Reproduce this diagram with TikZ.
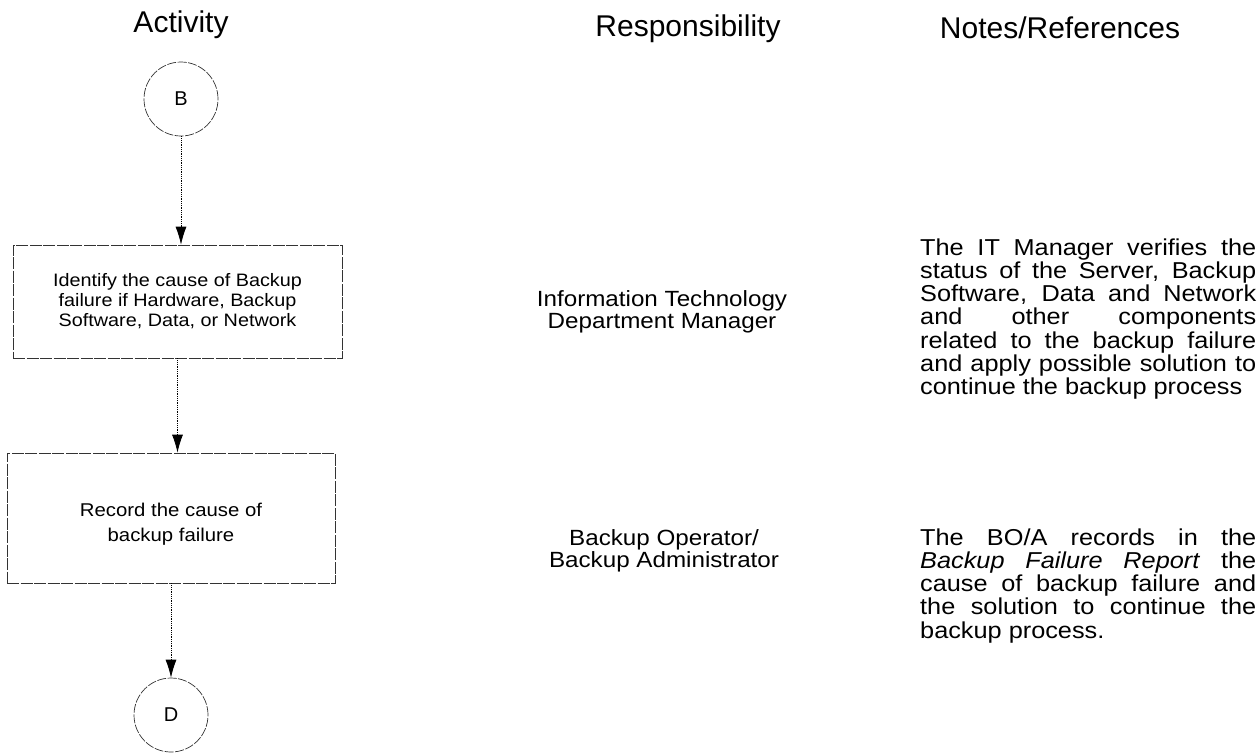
\documentclass[tikz,border=0pt]{standalone}
\usepackage{fontspec}
\setmainfont{Liberation Sans}
\newfontfamily\scanfont{Liberation Sans}[FakeStretch=1.1]
\usetikzlibrary{arrows.meta}

\tikzstyle{connector} = [circle,draw=black!80,line width=0.7pt,dash pattern=on 9pt off 1.5pt,minimum size=74pt,inner sep=0pt,font=\fontsize{20}{24}\selectfont]
\tikzstyle{activity} = [rectangle,draw=black!80,line width=0.7pt,dash pattern=on 12pt off 1.5pt,align=center,text centered]
\tikzstyle{flow} = [densely dotted,line width=0.8pt,-{Latex[length=18pt,width=11pt]}]
\tikzstyle{heading} = [anchor=base,font=\fontsize{30}{36}\selectfont]
\tikzstyle{role} = [align=center,font=\scanfont\fontsize{22}{22}\selectfont]
\tikzstyle{note} = [anchor=north west,text width=336pt,align=justify,inner sep=0pt,font=\scanfont\fontsize{23}{23.3}\selectfont]

\begin{document}
\begin{tikzpicture}[x=1pt,y=-1pt]
	\useasboundingbox (0,0) rectangle (1260,753);
	% column headings
	\node (hact) [heading] at (181,32) {Activity};
	\node (hresp) [heading] at (688,36) {Responsibility};
	\node (hnotes) [heading] at (1060,38) {Notes/References};
	% activity column
	\node (B) [connector] at (181,99) {B};
	\node (identify) [activity,minimum width=329pt,minimum height=113pt,font=\scanfont\fontsize{18}{20}\selectfont] at (177.5,301.5) {Identify the cause of Backup\\failure if Hardware, Backup\\Software, Data, or Network};
	\node (record) [activity,minimum width=328pt,minimum height=130pt,label={[align=center,font=\scanfont\fontsize{18.5}{25}\selectfont,yshift=-6pt]center:Record the cause of\\backup failure}] at (171,518) {};
	\node (D) [connector] at (171,715) {D};
	\draw [flow] (B) -- (B |- identify.north);
	\draw [flow] (identify.south) -- (identify.south |- record.north);
	\draw [flow] (record) -- (D);
	% responsibility column
	\node (itdm) [role] at (662,312.3) {Information Technology\\Department Manager};
	\node (bo) [role] at (664,551.3) {Backup Operator/\\Backup Administrator};
	% notes column
	\node (note1) [note] at (920,238.2) {The IT Manager verifies the\linebreak status of the Server, Backup\linebreak Software, Data and Network\linebreak and other components\linebreak related to the backup failure\linebreak and apply possible solution to\linebreak continue the backup process};
	\node (note2) [note] at (920,528.2) {The BO/A records in the\linebreak \textit{Backup Failure Report} the\linebreak cause of backup failure and\linebreak the solution to continue the\linebreak backup process.};
\end{tikzpicture}
\end{document}
